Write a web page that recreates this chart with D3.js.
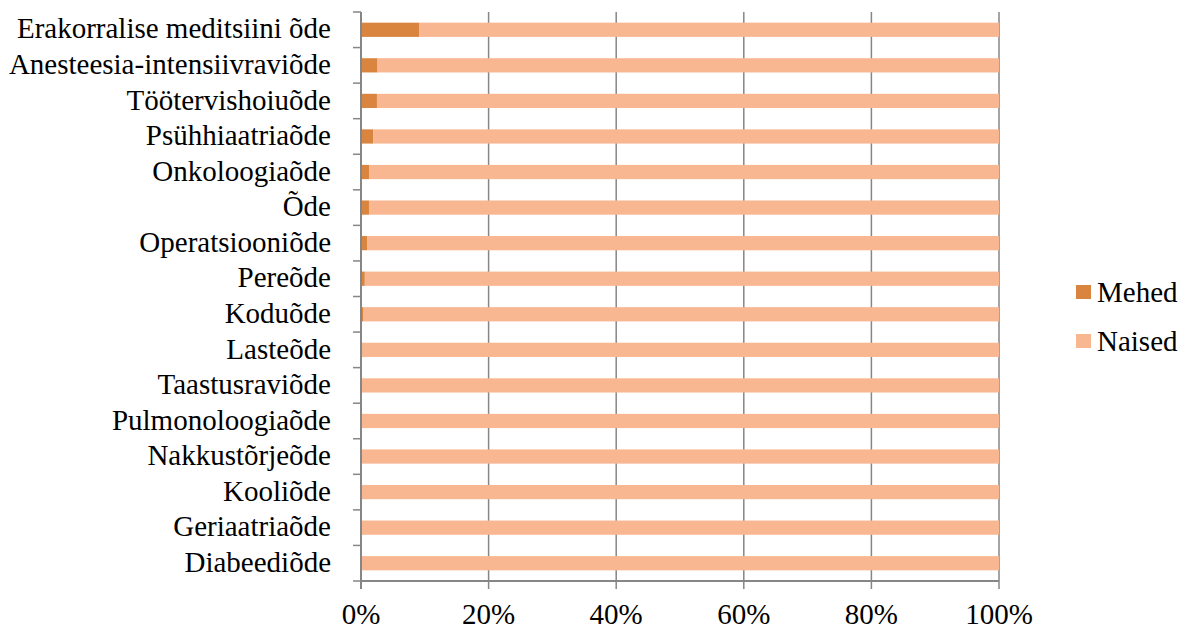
<!DOCTYPE html>
<html>
<head>
<meta charset="UTF-8">
<title>Mehed ja naised erialati</title>
<script src="https://cdn.jsdelivr.net/npm/d3@7/dist/d3.min.js"></script>
<style>
html, body { margin:0; padding:0; background:#fff; }
text { font-family: "Liberation Serif", "Times New Roman", serif; fill:#000; }
</style>
</head>
<body>
<script>
const categories = ['Erakorralise meditsiini õde','Anesteesia-intensiivraviõde','Töötervishoiuõde','Psühhiaatriaõde',
	'Onkoloogiaõde','Õde','Operatsiooniõde','Pereõde','Koduõde','Lasteõde','Taastusraviõde',
	'Pulmonoloogiaõde','Nakkustõrjeõde','Kooliõde','Geriaatriaõde','Diabeediõde'];
const mehed = [9.1, 2.6, 2.5, 1.9, 1.25, 1.25, 0.95, 0.6, 0.4, 0.25, 0.05, 0, 0, 0, 0, 0];
const naised = mehed.map(v => 100 - v);
const seriesNames = ['Mehed', 'Naised'];
const colors = ['#D9853F', '#F9B791'];
const ticks = [0, 20, 40, 60, 80, 100];

const W = 1188, H = 630;
const m = {left:361, right:189, top:12, bottom:49};
const FS = 29;

const svg = d3.select('body').append('svg').attr('width', W).attr('height', H);

const x = d3.scaleLinear().domain([0, 100]).range([m.left, W - m.right]);
const y = d3.scaleBand().domain(categories).range([m.top, H - m.bottom]).paddingInner(0.6).paddingOuter(0.3);
const yb = d3.scaleBand().domain(categories).range([m.top, H - m.bottom]);

// gridlines
svg.append('g').selectAll('line').data(ticks.slice(1)).enter().append('line')
	.attr('x1', d => x(d)).attr('x2', d => x(d))
	.attr('y1', m.top).attr('y2', H - m.bottom)
	.attr('stroke', '#868686').attr('stroke-width', 1.5);

// stacked bars
const rows = categories.map((c, i) => ({cat: c, Mehed: mehed[i], Naised: naised[i]}));
const stack = d3.stack().keys(seriesNames)(rows);
svg.append('g').selectAll('g').data(stack).enter().append('g')
	.attr('fill', (d, i) => colors[i])
	.selectAll('rect').data(d => d).enter().append('rect')
	.attr('x', d => x(d[0]))
	.attr('width', d => x(d[1]) - x(d[0]))
	.attr('y', d => y(d.data.cat))
	.attr('height', y.bandwidth());

// y axis
const yAxis = svg.append('g');
yAxis.append('line').attr('x1', m.left).attr('x2', m.left).attr('y1', m.top).attr('y2', H - m.bottom + 8)
	.attr('stroke', '#868686').attr('stroke-width', 2);
const bounds = categories.map(c => yb(c)).concat([H - m.bottom]);
yAxis.selectAll('line.tk').data(bounds).enter().append('line').attr('class', 'tk')
	.attr('x1', m.left - 8).attr('x2', m.left).attr('y1', d => d).attr('y2', d => d)
	.attr('stroke', '#868686').attr('stroke-width', 1.5);
yAxis.selectAll('text').data(categories).enter().append('text')
	.attr('x', m.left - 30).attr('y', d => yb(d) + yb.bandwidth() / 2)
	.attr('dy', '0.3em').attr('text-anchor', 'end').attr('font-size', FS)
	.text(d => d);

// x axis
const xAxis = svg.append('g');
xAxis.append('line').attr('x1', m.left).attr('x2', x(100)).attr('y1', H - m.bottom).attr('y2', H - m.bottom)
	.attr('stroke', '#868686').attr('stroke-width', 2);
xAxis.selectAll('line.tk').data(ticks).enter().append('line').attr('class', 'tk')
	.attr('x1', d => x(d)).attr('x2', d => x(d)).attr('y1', H - m.bottom).attr('y2', H - m.bottom + 8)
	.attr('stroke', '#868686').attr('stroke-width', 1.5);
xAxis.selectAll('text').data(ticks).enter().append('text')
	.attr('x', d => x(d)).attr('y', H - 6)
	.attr('text-anchor', 'middle').attr('font-size', FS)
	.text(d => d + '%');

// legend
const lg = svg.append('g').selectAll('g').data(seriesNames).enter().append('g')
	.attr('transform', (d, i) => `translate(1076, ${285 + i * 49})`);
lg.append('rect').attr('width', 15).attr('height', 14).attr('fill', (d, i) => colors[i]);
lg.append('text').attr('x', 21).attr('y', 7).attr('dy', '0.33em').attr('font-size', FS).text(d => d);
</script>
</body>
</html>
